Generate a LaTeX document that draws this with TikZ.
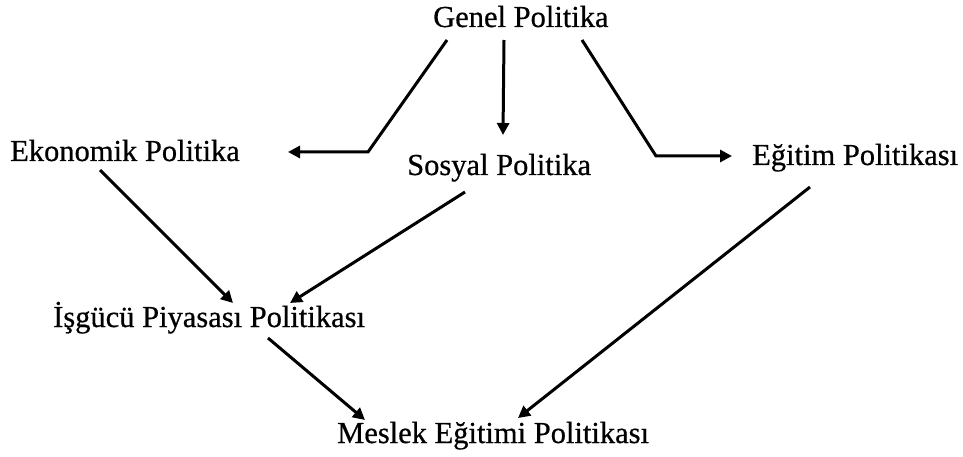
\documentclass[tikz,border=0pt]{standalone}
\usepackage{fontspec}
\setmainfont{Liberation Serif}
\newfontfamily\lblfont[FakeBold=0.6]{Liberation Serif}
\usetikzlibrary{arrows.meta}
\tikzset{
  lbl/.style={anchor=base west, inner sep=0pt, font=\lblfont\fontsize{30.5}{36}\selectfont},
  arr/.style={line width=3pt, -{Triangle[length=12pt,width=12pt]}, line join=miter}
}
\begin{document}
\begin{tikzpicture}[x=1pt,y=-1pt]
\useasboundingbox[fill=white] (0,0) rectangle (963,457);
\node[lbl] (gen) at (433,27) {Genel Politika};
\node[lbl] (eko) at (10,161) {Ekonomik Politika};
\node[lbl] (sos) at (407,175) {Sosyal Politika};
\node[lbl] (egi) at (752,165) {Eğitim Politikası};
\node[lbl] (isg) at (53,327) {İşgücü Piyasası Politikası};
\node[lbl] (mes) at (337,443) {Meslek Eğitimi Politikası};
\draw[arr] ([xshift=14pt,yshift=-13pt]gen.base west) -- (368,152) -- ([xshift=278pt,yshift=9pt]eko.base west);
\draw[arr] ([xshift=71pt,yshift=-13pt]gen.base west) -- ([xshift=96pt,yshift=40pt]sos.base west);
\draw[arr] ([xshift=149pt,yshift=-13pt]gen.base west) -- (656,156) -- ([xshift=-20pt,yshift=9pt]egi.base west);
\draw[arr] ([xshift=90pt,yshift=-9pt]eko.base west) -- ([xshift=180pt,yshift=24pt]isg.base west);
\draw[arr] ([xshift=58pt,yshift=-17pt]sos.base west) -- ([xshift=237pt,yshift=24pt]isg.base west);
\draw[arr] ([xshift=215pt,yshift=-11pt]isg.base west) -- ([xshift=28pt,yshift=23pt]mes.base west);
\draw[arr] ([xshift=58pt,yshift=-22pt]egi.base west) -- ([xshift=181pt,yshift=25pt]mes.base west);
\end{tikzpicture}
\end{document}
